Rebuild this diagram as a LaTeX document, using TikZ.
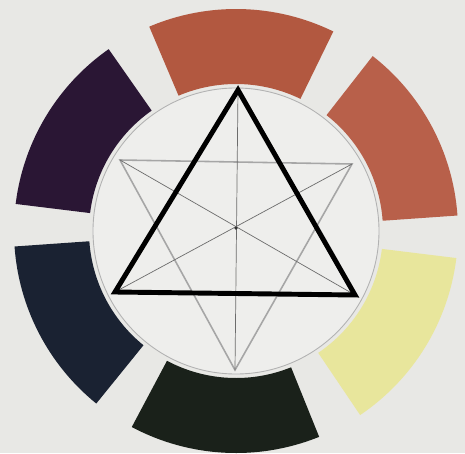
\documentclass[tikz,border=0pt]{standalone}
\usepackage{xcolor}
\usepackage{tikz}

\definecolor{paper}{RGB}{232,232,229}
\definecolor{disc}{RGB}{238,238,236}
\definecolor{redtop}{RGB}{178,88,64}
\definecolor{redright}{RGB}{184,96,74}
\definecolor{yellowseg}{RGB}{232,230,156}
\definecolor{greenseg}{RGB}{26,33,26}
\definecolor{blueseg}{RGB}{26,34,50}
\definecolor{purpleseg}{RGB}{42,22,52}

\begin{document}
\begin{tikzpicture}[
    segment/.style={draw=none},
    guide/.style={draw=gray!70, line width=0.9pt},
    median/.style={draw=gray!85!black, line width=0.4pt},
    bold/.style={draw=black, line width=2.8pt, line join=miter}]
    % Background
    \fill[paper] (-4.72,-4.44) rectangle (4.58,4.62);
    \useasboundingbox (-4.72,-4.44) rectangle (4.58,4.62);

    % Outer segments
    \fill[segment, redright] (4:2.94) -- (4:4.44) arc[start angle=4, end angle=52, radius=4.44]
        -- (52:2.94) arc[start angle=52, end angle=4, radius=2.94] -- cycle;
    \fill[segment, redtop] (64:2.94) -- (64:4.44) arc[start angle=64, end angle=113, radius=4.44]
        -- (113:2.94) arc[start angle=113, end angle=64, radius=2.94] -- cycle;
    \fill[segment, purpleseg] (125:2.94) -- (125:4.44) arc[start angle=125, end angle=173, radius=4.44]
        -- (173:2.94) arc[start angle=173, end angle=125, radius=2.94] -- cycle;
    \fill[segment, blueseg] (184:2.94) -- (184:4.44) arc[start angle=184, end angle=231, radius=4.44]
        -- (231:2.94) arc[start angle=231, end angle=184, radius=2.94] -- cycle;
    \fill[segment, greenseg] (242:2.94) -- (242:4.44) arc[start angle=242, end angle=292, radius=4.44]
        -- (292:2.94) arc[start angle=292, end angle=242, radius=2.94] -- cycle;
    \fill[segment, yellowseg] (304:2.94) -- (304:4.44) arc[start angle=304, end angle=353, radius=4.44]
        -- (353:2.94) arc[start angle=353, end angle=304, radius=2.94] -- cycle;

    % Inner disc
    \draw[gray!60, line width=0.5pt, fill=disc] (0,0) circle (2.86);

    % Corners
    \coordinate (apex) at (0.04,2.82);
    \coordinate (left) at (-2.42,-1.22);
    \coordinate (right) at (2.38,-1.28);
    \coordinate (topleft) at (-2.32,1.42);
    \coordinate (topright) at (2.32,1.34);
    \coordinate (bottom) at (-0.02,-2.78);
    \coordinate (centre) at (0,0.06);

    % Grey triangle
    \draw[guide] (topleft) -- (topright) -- (bottom) -- cycle;

    % Medians
    \draw[median] (apex) -- (bottom);
    \draw[median] (topleft) -- (right);
    \draw[median] (topright) -- (left);
    \fill[black!80] (centre) circle (0.035);

    % Black triangle
    \draw[bold] (apex) -- (right) -- (left) -- cycle;
\end{tikzpicture}
\end{document}
